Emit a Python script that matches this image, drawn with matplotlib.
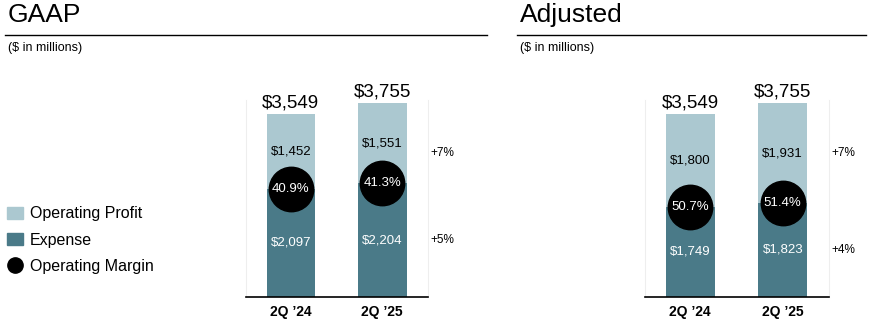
import numpy as np
import matplotlib.pyplot as plt
from matplotlib.patches import Patch
from matplotlib.lines import Line2D

plt.rcParams['font.family'] = ['Liberation Sans', 'DejaVu Sans']

# ---------- Dados ----------
quarters = ['2Q ’24', '2Q ’25']

gaap_expense = [2097, 2204]
gaap_profit = [1452, 1551]
gaap_total = [3549, 3755]
gaap_margin = ['40.9%', '41.3%']
gaap_growth = ['+7%', '+5%']

adj_expense = [1749, 1823]
adj_profit = [1800, 1931]
adj_total = [3549, 3755]
adj_margin = ['50.7%', '51.4%']
adj_growth = ['+7%', '+4%']

c_profit = '#abc8d0'
c_expense = '#4a7a88'

W, H = 877, 322
fig = plt.figure(figsize=(W / 100, H / 100), dpi=100)


def px(x0, y0, x1, y1):
    # retangulo em pixels -> fracoes da figura
    return [x0 / W, 1 - y1 / H, (x1 - x0) / W, (y1 - y0) / H]


def panel(left, right, expense, profit, total, margin, growth):
    ax = fig.add_axes(px(left, 100, right, 297))
    x = np.arange(len(quarters))
    ax.bar(x, expense, width=0.53, color=c_expense)
    ax.bar(x, profit, bottom=expense, width=0.53, color=c_profit)
    ax.set_xlim(-0.49, 1.5)
    ax.set_ylim(0, 3818)
    for i in x:
        top = expense[i] + profit[i]
        ax.text(i, top + 50, f'${total[i]:,}', ha='center', va='bottom',
                fontsize=13.5)
        ax.text(i, expense[i] + profit[i] / 2, f'${profit[i]:,}', ha='center',
                va='center', fontsize=9.5)
        ax.text(i, expense[i] / 2, f'${expense[i]:,}', ha='center',
                va='center', fontsize=9.5, color='white')
        ax.plot(i, expense[i], 'o', ms=32, color='black', mec='black', zorder=4)
        ax.text(i, expense[i], margin[i], ha='center', va='center',
                fontsize=9.5, color='white', zorder=5)
    ax.text(1.53, 2795, growth[0], ha='left', va='center', fontsize=8.5,
            clip_on=False)
    ax.text(1.53, expense[1] / 2, growth[1], ha='left', va='center',
            fontsize=8.5, clip_on=False)
    ax.set_xticks(x)
    ax.set_xticklabels(quarters, fontsize=10, fontweight='bold')
    ax.tick_params(axis='x', length=0, pad=6)
    ax.set_yticks([])
    ax.spines['top'].set_visible(False)
    for s in ['left', 'right']:
        ax.spines[s].set_color('#eeeeee')
        ax.spines[s].set_linewidth(0.8)
    ax.spines['bottom'].set_linewidth(1.2)
    return ax


panel(246, 428, gaap_expense, gaap_profit, gaap_total, gaap_margin, gaap_growth)
panel(645, 829, adj_expense, adj_profit, adj_total, adj_margin, adj_growth)

# Titulos e linhas
for x0, x1, title in [(5, 487, 'GAAP'), (517, 866, 'Adjusted')]:
    fig.text((x0 + 3) / W, 1 - 15 / H, title, fontsize=19, va='center')
    fig.add_artist(Line2D([x0 / W, x1 / W], [1 - 35 / H, 1 - 35 / H],
                          color='black', lw=1))
    fig.text((x0 + 3) / W, 1 - 48 / H, '($ in millions)', fontsize=9,
             va='center')

# Legenda
handles = [Patch(color=c_profit, label='Operating Profit'),
           Patch(color=c_expense, label='Expense'),
           Line2D([], [], marker='o', ls='', color='black', ms=11,
                  label='Operating Margin')]
fig.legend(handles=handles, loc='upper left', bbox_to_anchor=(1 / W, 1 - 200 / H),
           frameon=False, fontsize=11.5, handlelength=1.0, handleheight=0.75,
           handletextpad=0.4, labelspacing=0.7, borderaxespad=0)

fig.savefig('out.png', dpi=100)
